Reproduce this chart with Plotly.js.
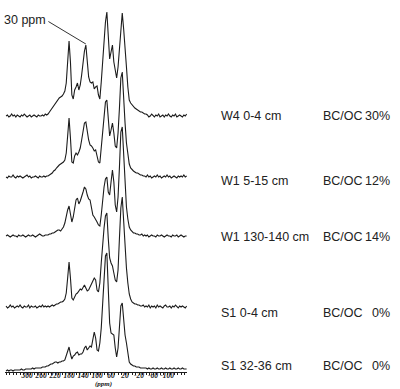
<!DOCTYPE html>
<html>
<head>
<meta charset="utf-8">
<script src="https://cdn.plot.ly/plotly-3.0.1.min.js"></script>
<style>
  html, body { margin: 0; padding: 0; background: #fff; }
  #chart { width: 400px; height: 389px; }
</style>
</head>
<body>
<div id="chart"></div>
<script>
// Chemical shift grid (ppm), shared by all spectra
const ppm = [360,356,352,348,344,340,336,332,328,324,320,316,312,308,304,300,296,292,288,284,
  280,276,272,268,264,260,256,252,248,244,240,236,232,228,224,220,216,212,208,204,
  200,196,192,188,184,180,176,172,168,164,160,156,152,148,144,140,136,132,128,124,
  120,116,112,108,104,100,96,92,88,84,80,76,72,68,64,60,56,52,48,44,
  40,36,32,28,24,20,16,12,8,4,0,-4,-8,-12,-16,-20,-24,-28,-32,-36,
  -40,-44,-48,-52,-56,-60,-64,-68,-72,-76,-80,-84,-88,-92,-96,-100,-104,-108,-112,-116,
  -120,-124,-128,-132,-136,-140,-144,-148,-152,-156];

// Sample labels and black-carbon fraction of organic carbon
const sampleNames = ['W4 0-4 cm', 'W1 5-15 cm', 'W1 130-140 cm', 'S1 0-4 cm', 'S1 32-36 cm'];
const bcocPercent = [30, 12, 14, 0, 0];

// Axis tick labels (ppm)
const tickPpm = [300, 260, 220, 180, 140, 100, 60, 20, -20, -60, -100];

// 13C NMR intensities (arbitrary units) on the ppm grid
const specW4_0_4 = [
  1,2,0,1,3,1,2,0,2,1, 0,2,1,3,1,0,1,2,0,1, 2,1,0,2,1,1,2,1,3,2,
  3,5,7,9,12,14,16,17,19,20, 21,23,26,34,55,76,55,22,18,27,
  30,34,27,32,42,55,66,72,55,40, 35,34,35,28,30,31,22,18,35,55,
  78,95,105,75,58,65,72,55,45,39, 50,70,92,104,88,72,50,30,17,14,
  12,11,9,8,7,6,5,5,4,3, 3,2,0,1,3,1,0,2,1,3, 0,1,2,0,2,1,3,1,0,2,
  1,3,0,1,2,1,0,2,1,3];
const specW1_5_15 = [
  1,0,2,1,1,3,1,0,2,1, 2,1,0,1,2,3,1,2,0,1, 1,2,1,0,2,1,1,2,1,2,
  2,3,4,5,7,8,10,12,13,14, 15,16,18,25,42,60,40,16,15,22,
  25,23,26,30,38,48,55,56,45,38, 33,32,30,27,28,22,16,15,30,48,
  65,76,78,55,42,48,55,45,32,30, 45,70,100,106,75,55,35,22,14,10,
  8,7,6,5,5,4,3,3,2,2, 1,3,1,2,0,1,2,1,3,1, 2,0,1,2,1,3,1,2,0,1,
  2,1,0,2,1,2,1,3,1,2];
const specW1_130_140 = [
  1,2,1,0,1,2,1,1,0,2, 1,1,2,1,0,1,2,1,1,2, 1,0,1,2,3,2,1,1,2,2,
  2,3,3,4,4,5,6,7,7,6, 8,10,14,22,27,31,22,15,20,30,
  37,39,33,36,42,45,50,48,42,38, 37,28,22,20,18,15,12,11,22,38,
  50,58,60,45,42,55,67,55,32,25, 40,70,105,110,80,50,30,18,10,7,
  5,4,4,3,3,2,2,3,1,2, 1,2,0,1,2,1,1,0,2,1, 1,2,1,0,1,2,1,1,0,2,
  1,1,2,0,1,2,1,0,1,1];
const specS1_0_4 = [
  2,0,1,3,1,2,0,1,2,1, 3,1,0,2,1,1,3,0,2,1, 1,2,0,1,2,1,3,1,2,1,
  2,1,2,3,2,3,4,4,5,6, 6,7,9,15,30,46,30,10,8,12,
  14,15,17,19,18,20,23,20,17,18, 22,24,27,30,28,18,16,25,45,65,
  80,92,95,70,50,45,42,35,28,26, 38,70,100,111,85,60,40,25,14,9,
  6,5,4,4,3,3,2,2,3,1, 2,1,3,0,2,1,2,0,3,1, 2,1,0,2,3,1,1,2,0,2,
  1,3,1,0,2,1,2,1,0,2];
const specS1_32_36 = [
  0,1,0,1,1,0,1,1,1,1, 1,2,1,1,2,2,2,2,2,3, 2,3,3,3,3,3,4,4,4,5,
  5,6,7,7,8,9,9,8,9,9, 10,10,11,15,20,24,17,12,15,16,
  18,19,16,17,17,19,23,25,21,23, 25,24,31,39,33,21,20,28,43,68,
  98,115,118,83,48,38,37,36,23,14, 23,48,65,68,48,36,28,15,9,7,
  6,5,5,4,4,4,3,3,3,3, 3,2,3,2,2,3,2,2,3,2, 2,3,2,2,3,2,2,3,2,2,
  3,2,2,3,2,2,3,2,2,2];

const spectra = [specW4_0_4, specW1_5_15, specW1_130_140, specS1_0_4, specS1_32_36];

// Vertical stacking: baseline of each spectrum above the axis, and row of its label
const stackBase = [255, 194, 135, 64, 1];
const labelRowY = [256, 191, 135, 59, 6];

const ink = '#1c1c1c';

const traces = spectra.map((s, k) => ({
  type: 'scatter',
  mode: 'lines',
  x: ppm,
  y: s.map(v => v + stackBase[k]),
  line: { color: ink, width: 1.1 },
  hoverinfo: 'skip',
  showlegend: false
}));

const labelFont = { family: 'Liberation Sans, Arial, sans-serif', size: 12.5, color: '#222' };
const axisFont = { family: 'Liberation Serif, Times New Roman, serif', size: 7.5, color: '#222',
                   weight: 'bold', style: 'italic' };
const unitFont = { family: 'Liberation Serif, Times New Roman, serif', size: 7, color: '#222',
                   weight: 'bold', style: 'italic' };

// plot area spans 182 px horizontally (x from 5 to 187)
const pxToPaper = px => (px - 5) / 182;

const annotations = [];
sampleNames.forEach((name, k) => {
  annotations.push({
    xref: 'paper', yref: 'y', x: pxToPaper(219), y: labelRowY[k],
    xanchor: 'left', yanchor: 'middle', text: name, showarrow: false, font: labelFont
  });
  annotations.push({
    xref: 'paper', yref: 'y', x: pxToPaper(321), y: labelRowY[k],
    xanchor: 'left', yanchor: 'middle', text: 'BC/OC', showarrow: false, font: labelFont
  });
  annotations.push({
    xref: 'paper', yref: 'y', x: pxToPaper(392), y: labelRowY[k],
    xanchor: 'right', yanchor: 'middle', text: bcocPercent[k] + '%', showarrow: false, font: labelFont
  });
});

// "30 ppm" callout on the top spectrum
const calloutIdx = ppm.indexOf(132);
annotations.push({
  xref: 'paper', yref: 'y', x: pxToPaper(2), y: 352,
  xanchor: 'left', yanchor: 'middle', text: '30 ppm', showarrow: false, font: labelFont
});
// axis unit, at the foot of the figure under the tick labels
annotations.push({
  xref: 'x', yref: 'paper', x: 83, y: -0.0457,
  xanchor: 'center', yanchor: 'bottom', text: '(ppm)', showarrow: false, font: unitFont,
  borderpad: 0
});

const shapes = [{
  type: 'line', xref: 'x', yref: 'y',
  x0: 239, y0: 350.5,
  x1: ppm[calloutIdx], y1: stackBase[0] + specW4_0_4[calloutIdx] + 1,
  line: { color: '#333', width: 1 }
}];

const layout = {
  width: 400,
  height: 389,
  margin: { l: 5, r: 213, t: 0, b: 17, pad: 0 },
  paper_bgcolor: '#fff',
  plot_bgcolor: '#fff',
  showlegend: false,
  xaxis: {
    range: [363, -157],
    showline: true, linecolor: ink, linewidth: 1,
    ticks: 'outside', ticklen: 2, tickwidth: 1, tickcolor: ink,
    tickvals: tickPpm, ticktext: tickPpm.map(String),
    tickangle: 0,
    ticklabelstandoff: -6,
    tickfont: axisFont,
    minor: { dtick: 10, tick0: 0, ticks: 'outside', ticklen: 2, tickcolor: ink, showgrid: false },
    showgrid: false, zeroline: false, fixedrange: true
  },
  yaxis: { range: [0, 372], visible: false, fixedrange: true },
  annotations: annotations,
  shapes: shapes
};

Plotly.newPlot('chart', traces, layout, { staticPlot: true, displayModeBar: false });
</script>
</body>
</html>
